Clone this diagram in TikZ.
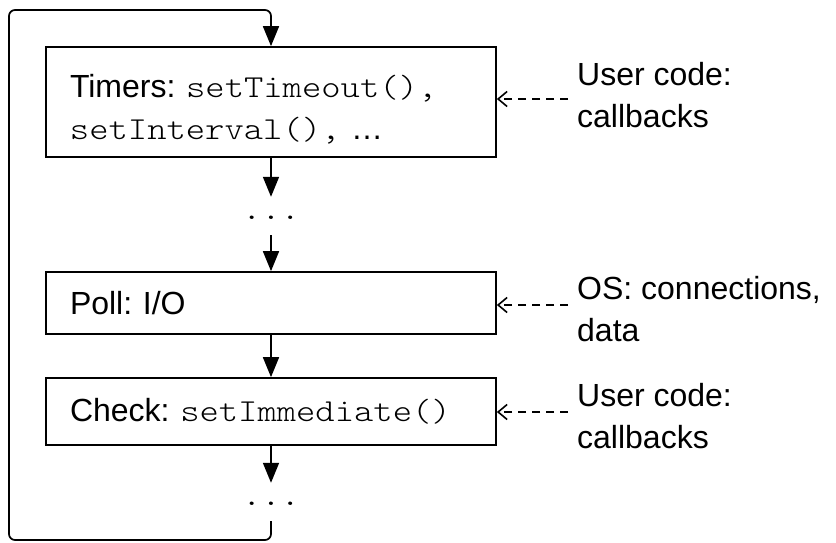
\documentclass[tikz,border=0pt]{standalone}
\usepackage{fontspec}
\setmainfont{Liberation Sans}
\setmonofont{lmmonolt10-regular.otf}[FakeStretch=1.15]
\usetikzlibrary{arrows.meta}
\frenchspacing

\begin{document}
\begin{tikzpicture}[x=1pt,y=-1pt,
  every node/.style={font=\fontsize{32}{42}\selectfont},
  phase/.style={draw, line width=1.7pt, minimum width=450pt, text width=402pt,
    align=left, inner xsep=24pt, inner ysep=0pt},
  flow/.style={line width=1.7pt, -{Triangle[length=20pt,width=16pt]}},
  feed/.style={line width=1.6pt, dash pattern=on 8pt off 6pt,
    -{Straight Barb[length=9pt,width=15pt]}},
  source/.style={anchor=west, align=left, inner sep=0pt},
  gapdots/.style={inner sep=0pt, text height=6pt, text depth=0pt,
    minimum height=38pt, font=\fontsize{32}{32}\selectfont\ttfamily}
]
\path[use as bounding box] (0,0) rectangle (836,543);

% event loop phases
\node[phase, minimum height=110pt] (timers) at (271,102)
  {\rule{0pt}{37pt}Timers: \texttt{setTimeout(),}\\\texttt{setInterval(),} …};
\node[gapdots] (gap1) at (271,216) {...};
\node[phase, minimum height=62pt] (poll) at (271,303) {Poll: I/O};
\node[phase, minimum height=67pt] (check) at (271,411.5)
  {Check: \texttt{setImmediate()}};
\node[gapdots] (gap2) at (271,502) {...};

% flow between phases
\draw[flow] (timers.south) -- (gap1.north);
\draw[flow] (gap1.south) -- (poll.north);
\draw[flow] (poll.south) -- (check.north);
\draw[flow] (check.south) -- (gap2.north);

% loop back to the first phase
\coordinate (loopBL) at (9,540);
\coordinate (loopTL) at (9,10);
\draw[flow, rounded corners=6pt] (gap2.south) -- (gap2.south |- loopBL)
  -- (loopBL) -- (loopTL) -- (timers.north |- loopTL) -- (timers.north);

% sources of callbacks
\node[source] (userA) at (577,95) {User code:\\callbacks};
\node[source] (os) at (577,309) {OS: connections,\\data};
\node[source] (userB) at (577,416) {User code:\\callbacks};

\coordinate (userA-in) at ([xshift=-9pt,yshift=-4pt]userA.west);
\coordinate (os-in) at ([xshift=-9pt,yshift=4pt]os.west);
\coordinate (userB-in) at ([xshift=-9pt,yshift=4pt]userB.west);

\draw[feed] (userA-in) -- (userA-in -| timers.east);
\draw[feed] (os-in) -- (os-in -| poll.east);
\draw[feed] (userB-in) -- (userB-in -| check.east);
\end{tikzpicture}
\end{document}
